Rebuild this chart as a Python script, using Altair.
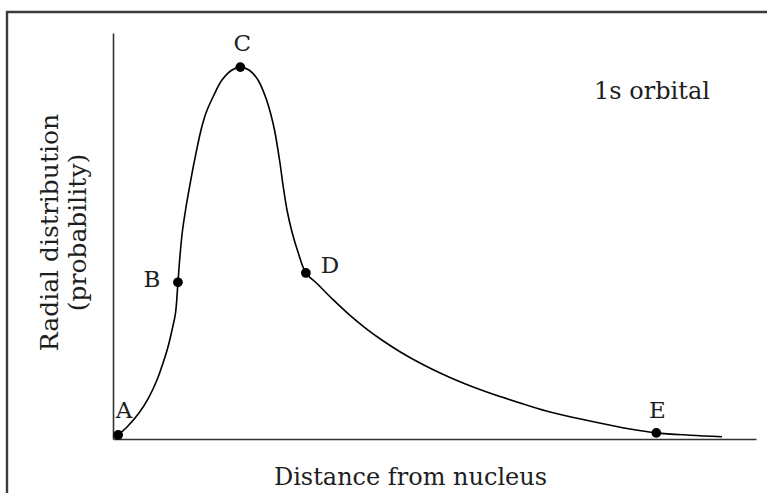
import altair as alt
import pandas as pd

# Radial distribution curve of a 1s orbital (arbitrary units)
curve_x = [0.08, 0.218, 0.404, 0.56, 0.684, 0.778, 0.855, 0.918, 0.972, 1.01,
           1.039, 1.078, 1.128, 1.182, 1.26, 1.369, 1.446, 1.555, 1.695, 1.851,
           1.98, 2.115, 2.255, 2.372, 2.449, 2.512, 2.597, 2.644, 2.706, 2.784,
           2.877, 3.0, 3.168, 3.426, 3.686, 3.946, 4.204, 4.463, 4.723, 4.981,
           5.241, 5.501, 5.759, 6.019, 6.796, 7.418, 8.04, 8.45, 8.974, 9.471]
curve_y = [0.1, 0.296, 0.64, 1.034, 1.453, 1.872, 2.266, 2.685, 3.103, 3.86,
           4.458, 5.099, 5.64, 6.133, 6.798, 7.611, 8.03, 8.424, 8.842, 9.089,
           9.16, 9.089, 8.842, 8.424, 8.03, 7.611, 6.798, 6.256, 5.64, 5.099,
           4.606, 4.09, 3.835, 3.426, 3.047, 2.709, 2.414, 2.15, 1.916, 1.707,
           1.517, 1.345, 1.19, 1.047, 0.665, 0.443, 0.246, 0.15, 0.094, 0.057]

# Marked points on the curve
point_labels = ["A", "B", "C", "D", "E"]
point_x = [0.08, 1.01, 1.98, 3.0, 8.45]
point_y = [0.1, 3.86, 9.16, 4.09, 0.15]

curve = pd.DataFrame({"r": curve_x, "p": curve_y})
points = pd.DataFrame({"label": point_labels, "r": point_x, "p": point_y})

FONT = "DejaVu Serif"
INK = "#1e1e1e"

x_enc = alt.X("r:Q", scale=alt.Scale(domain=[0, 10]),
              axis=alt.Axis(title="Distance from nucleus", labels=False, ticks=False,
                            grid=False, domainColor="#333333", domainWidth=1.6,
                            titleFont=FONT, titleFontSize=24, titleFontWeight="normal",
                            titleColor=INK, titleX=297, titleY=45,
                            titleBaseline="alphabetic", titleAnchor="start", titleAlign="center"))
y_enc = alt.Y("p:Q", scale=alt.Scale(domain=[0, 10]),
              axis=alt.Axis(title=["Radial distribution", "(probability)"], labels=False,
                            ticks=False, grid=False, domainColor="#333333", domainWidth=1.6,
                            titleFont=FONT, titleFontSize=25, titleFontWeight="normal",
                            titleColor=INK, titleX=-56, titleY=199, titleAngle=270,
                            titleBaseline="alphabetic", titleAlign="center",
                            titleLineHeight=28))

line = alt.Chart(curve).mark_line(color="#000000", strokeWidth=1.6,
                                  interpolate="catmull-rom").encode(x=x_enc, y=y_enc)

dots = alt.Chart(points).mark_point(filled=True, color="#000000", size=95,
                                    opacity=1).encode(x="r:Q", y="p:Q")

# Letter labels, each nudged off its point
offsets = {"A": (6, -24), "B": (-26, -2), "C": (2, -23), "D": (24, -7), "E": (1, -22)}
labels = [
    alt.Chart(points).transform_filter(alt.datum.label == k)
    .mark_text(font=FONT, fontSize=23, color=INK, align="center", baseline="middle",
               dx=dx, dy=dy)
    .encode(x="r:Q", y="p:Q", text="label:N")
    for k, (dx, dy) in offsets.items()
]

note = alt.Chart(pd.DataFrame({"t": ["1s orbital"]})).mark_text(
    font=FONT, fontSize=24, color=INK, align="center", baseline="middle"
).encode(x=alt.value(539), y=alt.value(59), text="t:N")

# Outer frame around the figure
frame = alt.Chart(pd.DataFrame({"t": [0]})).mark_rect(
    filled=False, stroke="#3c3c3c", strokeWidth=2.4
).encode(x=alt.value(-106), x2=alt.value(670), y=alt.value(-21), y2=alt.value(470))

chart = alt.layer(frame, line, dots, *labels, note).properties(
    width=643, height=406,
    background="white",
    autosize=alt.AutoSizeParams(type="none"),
    padding={"left": 113, "top": 33, "right": 11, "bottom": 54},
).configure_view(stroke="transparent", strokeWidth=0)

chart.save("out.html", embed_options={"renderer": "svg", "actions": False})
